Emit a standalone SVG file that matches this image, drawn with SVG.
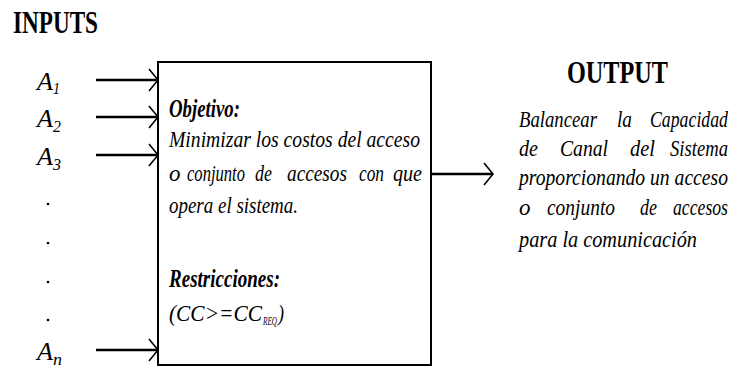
<svg xmlns="http://www.w3.org/2000/svg" width="734" height="367" viewBox="0 0 734 367" font-family="'Liberation Serif', 'DejaVu Serif', serif">
<style>
  text { font-family: "Liberation Serif", "DejaVu Serif", serif; fill: #000; }
  .head { font-weight: bold; font-size: 31px; }
  .it { font-style: italic; font-size: 23px; }
  .bi { font-style: italic; font-weight: bold; font-size: 25px; }
  .ot { font-style: italic; font-size: 23px; }
  .a { font-style: italic; font-size: 26px; }
  .sub { font-style: italic; font-size: 16px; }
  .conn { stroke: #000; stroke-width: 2.5; fill: none; }
  .box { fill: #fff; stroke: #000; stroke-width: 2; }
</style>
<defs>
  <marker id="chev" markerUnits="userSpaceOnUse" markerWidth="14" markerHeight="26" viewBox="-12 -13 14 26" refX="0" refY="0" orient="auto">
    <path d="M-9,-11 L0,0 L-9,11" fill="none" stroke="#000" stroke-width="1.6"/>
  </marker>
</defs>
<rect width="734" height="367" fill="#fff"/>

<g id="inputs-title">
  <text class="head" x="13" y="33" textLength="85" lengthAdjust="spacingAndGlyphs">INPUTS</text>
</g>

<g id="input-labels">
  <text class="a" x="37" y="90" textLength="16" lengthAdjust="spacingAndGlyphs">A</text>
  <text class="sub" x="53" y="94" textLength="7" lengthAdjust="spacingAndGlyphs">1</text>
  <text class="a" x="37" y="127" textLength="16" lengthAdjust="spacingAndGlyphs">A</text>
  <text class="sub" x="53" y="132" textLength="8" lengthAdjust="spacingAndGlyphs">2</text>
  <text class="a" x="37" y="165" textLength="16" lengthAdjust="spacingAndGlyphs">A</text>
  <text class="sub" x="53" y="170" textLength="8" lengthAdjust="spacingAndGlyphs">3</text>
  <text class="a" x="37" y="360" textLength="16" lengthAdjust="spacingAndGlyphs">A</text>
  <text class="sub" x="53" y="365" textLength="9" lengthAdjust="spacingAndGlyphs">n</text>
  <g fill="#000">
    <circle cx="48" cy="204" r="1.3"/>
    <circle cx="48" cy="243" r="1.3"/>
    <circle cx="48" cy="282" r="1.3"/>
    <circle cx="48" cy="320" r="1.3"/>
  </g>
</g>

<g id="process-box">
  <rect class="box" x="158" y="62" width="273" height="303"/>
  <text class="bi" x="169" y="117" textLength="71" lengthAdjust="spacingAndGlyphs">Objetivo:</text>
  <text class="it" x="169" y="147" textLength="251" lengthAdjust="spacingAndGlyphs">Minimizar los costos del acceso</text>
  <text class="it" x="169" y="181">o</text>
  <text class="it" x="187" y="181" textLength="58" lengthAdjust="spacingAndGlyphs">conjunto</text>
  <text class="it" x="255" y="181" textLength="17" lengthAdjust="spacingAndGlyphs">de</text>
  <text class="it" x="287" y="181" textLength="60" lengthAdjust="spacingAndGlyphs">accesos</text>
  <text class="it" x="359" y="181" textLength="25" lengthAdjust="spacingAndGlyphs">con</text>
  <text class="it" x="393" y="181" textLength="29" lengthAdjust="spacingAndGlyphs">que</text>
  <text class="it" x="169" y="213" textLength="129" lengthAdjust="spacingAndGlyphs">opera el sistema.</text>
  <text class="bi" x="169" y="287" textLength="111" lengthAdjust="spacingAndGlyphs">Restricciones:</text>
  <text class="it" x="169" y="321" textLength="93" lengthAdjust="spacingAndGlyphs">(CC&gt;=CC</text>
  <text class="sub" x="263" y="325" style="font-size:13px" textLength="14" lengthAdjust="spacingAndGlyphs">REQ</text>
  <text class="it" x="278" y="321" textLength="6" lengthAdjust="spacingAndGlyphs">)</text>
</g>

<g id="output">
  <text class="head" x="567" y="83" textLength="101" lengthAdjust="spacingAndGlyphs">OUTPUT</text>
  <text class="ot" x="519" y="127" textLength="78" lengthAdjust="spacingAndGlyphs">Balancear</text>
  <text class="ot" x="617" y="127" textLength="15" lengthAdjust="spacingAndGlyphs">la</text>
  <text class="ot" x="650" y="127" textLength="78" lengthAdjust="spacingAndGlyphs">Capacidad</text>
  <text class="ot" x="519" y="156" textLength="19" lengthAdjust="spacingAndGlyphs">de</text>
  <text class="ot" x="560" y="156" textLength="48" lengthAdjust="spacingAndGlyphs">Canal</text>
  <text class="ot" x="630" y="156" textLength="25" lengthAdjust="spacingAndGlyphs">del</text>
  <text class="ot" x="670" y="156" textLength="58" lengthAdjust="spacingAndGlyphs">Sistema</text>
  <text class="ot" x="519" y="185" textLength="209" lengthAdjust="spacingAndGlyphs">proporcionando un acceso</text>
  <text class="ot" x="519" y="215">o</text>
  <text class="ot" x="547" y="215" textLength="68" lengthAdjust="spacingAndGlyphs">conjunto</text>
  <text class="ot" x="640" y="215" textLength="17" lengthAdjust="spacingAndGlyphs">de</text>
  <text class="ot" x="673" y="215" textLength="55" lengthAdjust="spacingAndGlyphs">accesos</text>
  <text class="ot" x="519" y="247" textLength="178" lengthAdjust="spacingAndGlyphs">para la comunicación</text>
</g>

<g id="connectors">
  <line class="conn" x1="96" y1="80" x2="158" y2="80" marker-end="url(#chev)"/>
  <line class="conn" x1="96" y1="117" x2="158" y2="117" marker-end="url(#chev)"/>
  <line class="conn" x1="96" y1="155" x2="158" y2="155" marker-end="url(#chev)"/>
  <line class="conn" x1="96" y1="350" x2="158" y2="350" marker-end="url(#chev)"/>
  <line class="conn" x1="431" y1="174" x2="493" y2="174" marker-end="url(#chev)"/>
</g>
</svg>
